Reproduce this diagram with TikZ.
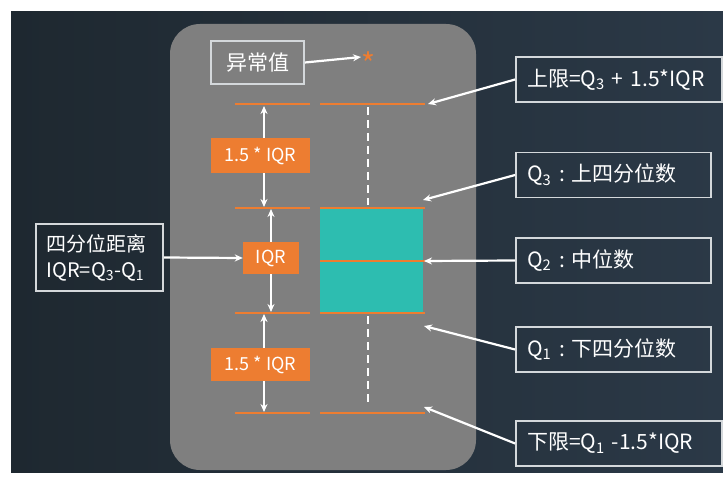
\documentclass[tikz,border=0pt]{standalone}
\usepackage{fontspec}
\usepackage{tikz}
\usetikzlibrary{arrows.meta}
\newfontfamily\cjk{Noto Sans CJK SC}
\definecolor{slateL}{HTML}{1E2830}
\definecolor{slateR}{HTML}{2B3947}
\definecolor{panel}{HTML}{7F7F7F}
\definecolor{boxorange}{HTML}{ED7D31}
\definecolor{boxteal}{HTML}{2DBDB0}
\definecolor{frame}{HTML}{D4D8DB}
\newcommand{\qcolon}{\hspace{8pt}:\hspace{6pt}}
\tikzset{
  infobox/.style={draw=frame,line width=1.8pt,text=white,inner sep=0pt,
    font=\cjk\fontsize{21}{25}\selectfont},
  rightbox/.style={infobox,minimum height=45pt,align=left},
  tagbox/.style={fill=boxorange,text=white,inner sep=0pt,
    font=\cjk\fontsize{18}{21}\selectfont},
  whisker/.style={draw=boxorange,line width=2.6pt},
  leader/.style={draw=white,line width=2.2pt,-{Stealth[length=8pt,width=7pt]}},
}

\begin{document}
\begin{tikzpicture}[x=1pt,y=-1pt]
        % Background
        \useasboundingbox (0,0) rectangle (723,484);
        \fill[white] (0,0) rectangle (723,484);
        \shade[left color=slateL,right color=slateR] (11,12) rectangle (723,472);
        \fill[panel,rounded corners=30pt] (170,24) rectangle (476,470);
        % Box plot
        \fill[boxteal] (320,208) rectangle (423,313);
        \foreach \y in {104,208,313,413} \draw[whisker] (235,\y) -- (310,\y);
        \foreach \y in {104,208,261,313,413} \draw[whisker] (320,\y) -- (425,\y);
        \draw[white,line width=2.8pt,dash pattern=on 8pt off 5pt] (368,107) -- (368,205);
        \draw[white,line width=2.8pt,dash pattern=on 8pt off 5pt] (368,316) -- (368,403);
        % Outlier
        \node[infobox,minimum width=93pt,minimum height=43pt] (outlier) at (257.5,62.5) {异常值};
        \node[text=boxorange,inner sep=0pt,anchor=north,font=\cjk\fontsize{30}{30}\selectfont] (star) at (369,51) {*};
        \coordinate (startip) at (361,57);
        \draw[leader] (outlier.east) -- (startip);
        % Spread tags
        \node[tagbox,minimum width=99pt,minimum height=35pt] (upper) at (260.5,155.5) {1.5 * IQR};
        \node[tagbox,minimum width=56pt,minimum height=32pt] (iqr) at (271,258) {IQR};
        \node[tagbox,minimum width=99pt,minimum height=33pt] (lower) at (260.5,364.5) {1.5 * IQR};
        \coordinate (uwtop) at (264,106);
        \coordinate (uwbot) at (264,207);
        \coordinate (iqrtop) at (271,209);
        \coordinate (iqrbot) at (271,312);
        \coordinate (lwtop) at (264,314);
        \coordinate (lwbot) at (264,412);
        \draw[leader] (upper.north -| uwtop) -- (uwtop);
        \draw[leader] (upper.south -| uwbot) -- (uwbot);
        \draw[leader] (iqr.north) -- (iqrtop);
        \draw[leader] (iqr.south) -- (iqrbot);
        \draw[leader] (lower.north -| lwtop) -- (lwtop);
        \draw[leader] (lower.south -| lwbot) -- (lwbot);
        % Spread label
        \node[infobox,minimum width=127pt,minimum height=67pt,text width=106pt,align=left,
          font=\cjk\fontsize{20}{26}\selectfont] (spread) at (99.5,257.5)
          {四分位距离\\IQR=Q\textsubscript{3}-Q\textsubscript{1}};
        \draw[leader] (spread.east) -- (iqr.west);
        % Quartile labels
        \node[rightbox,minimum width=206pt,text width=184pt] (ub) at (619,79.5) {上限=Q\textsubscript{3} + 1.5*IQR};
        \node[rightbox,minimum width=195pt,text width=173pt] (q3) at (613.5,175) {Q\textsubscript{3}\qcolon 上四分位数};
        \node[rightbox,minimum width=195pt,text width=173pt] (q2) at (613.5,260.5) {Q\textsubscript{2}\qcolon 中位数};
        \node[rightbox,minimum width=195pt,text width=173pt] (q1) at (613.5,349.5) {Q\textsubscript{1}\qcolon 下四分位数};
        \node[rightbox,minimum width=206pt,text width=184pt] (lb) at (619,443.5) {下限=Q\textsubscript{1} -1.5*IQR};
        \coordinate (ubtip) at (428,104);
        \coordinate (q3tip) at (423,200);
        \coordinate (q2tip) at (424,261);
        \coordinate (q1tip) at (424,326);
        \coordinate (lbtip) at (424,407);
        \draw[leader] (ub.west) -- (ubtip);
        \draw[leader] (q3.west) -- (q3tip);
        \draw[leader] (q2.west) -- (q2tip);
        \draw[leader] (q1.west) -- (q1tip);
        \draw[leader] (lb.west) -- (lbtip);
\end{tikzpicture}
\end{document}
